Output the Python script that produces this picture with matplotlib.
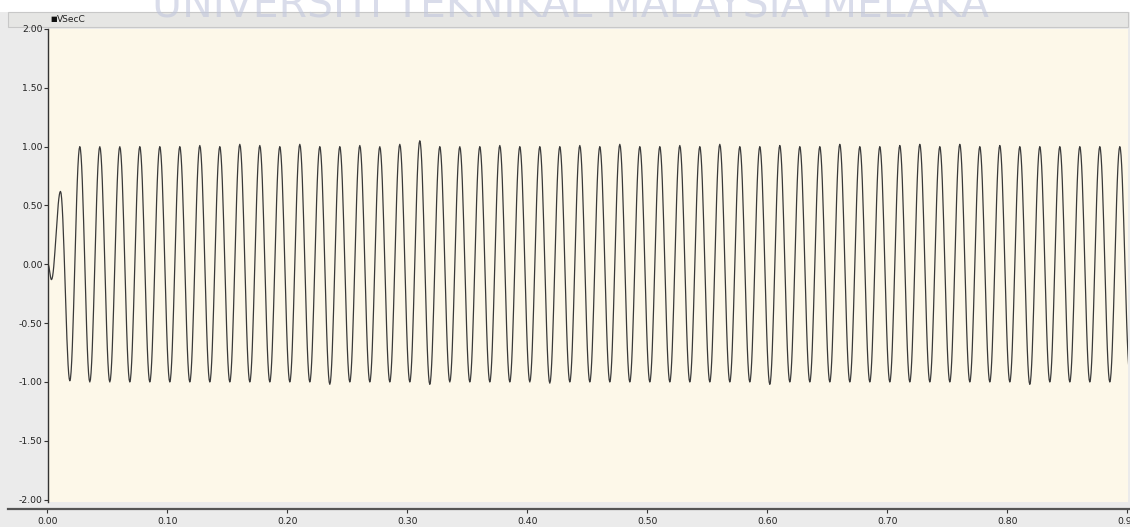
import numpy as np
import matplotlib
matplotlib.use("Agg")
import matplotlib.pyplot as plt
from matplotlib.patches import Rectangle

# signal
freq = 60.0                       # Hz, one cycle every ~20 px
start_t = [0.0, 0.0029, 0.0104, 0.0182]
start_v = [0.0, -0.13, 0.62, -0.99]
first_peak_t = 0.0265
peak_vals = [1.00, 1.00, 1.00, 1.00, 1.00, 1.00, 1.01, 1.00, 1.02, 1.01,
             1.00, 1.02, 1.00, 1.00, 1.01, 1.00, 1.02, 1.05, 1.00, 1.00,
             1.00, 1.01, 1.00, 1.00, 1.00, 1.01, 1.00, 1.02, 1.00, 1.00,
             1.01, 1.00, 1.02, 1.00, 1.00, 1.01, 1.00, 1.00, 1.02, 1.00,
             1.00, 1.01, 1.02, 1.00, 1.02, 1.00, 1.01, 1.00, 1.00, 1.00,
             1.00, 1.00, 1.00]
trough_vals = [-1.00, -1.00, -1.00, -1.00, -1.00, -1.00, -1.00, -1.00, -1.00, -1.00,
               -1.00, -1.00, -1.02, -1.00, -1.00, -1.00, -1.00, -1.02, -1.00, -1.00,
               -1.00, -1.00, -1.00, -1.01, -1.00, -1.00, -1.00, -1.00, -1.00, -1.00,
               -1.00, -1.00, -1.00, -1.00, -1.02, -1.00, -1.00, -1.00, -1.00, -1.00,
               -1.00, -1.00, -1.00, -1.00, -1.00, -1.00, -1.00, -1.02, -1.00, -1.00,
               -1.00, -1.00, -0.92]

y_ticks = [2.0, 1.5, 1.0, 0.5, 0.0, -0.5, -1.0, -1.5, -2.0]
x_ticks = [0.0, 0.1, 0.2, 0.3, 0.4, 0.5, 0.6, 0.7, 0.8, 0.9]

# extrema list -> smooth half-cosine segments between them
ext_t = list(start_t)
ext_v = list(start_v)
for k in range(len(peak_vals)):
    ext_t.append(first_peak_t + k / freq)
    ext_v.append(peak_vals[k])
    if k < len(trough_vals):
        ext_t.append(first_peak_t + (k + 0.5) / freq)
        ext_v.append(trough_vals[k])

t_all, v_all = [], []
for i in range(len(ext_t) - 1):
    s = np.linspace(0, 1, 16, endpoint=False)
    t_all.extend(ext_t[i] + (ext_t[i + 1] - ext_t[i]) * s)
    v_all.extend(ext_v[i] + (ext_v[i + 1] - ext_v[i]) * (1 - np.cos(np.pi * s)) / 2)
t_all.append(ext_t[-1])
v_all.append(ext_v[-1])

W, H = 1130, 527
fig = plt.figure(figsize=(W / 100, H / 100), dpi=100)
fig.patch.set_facecolor("#ebebeb")

# white strip at the very top, header bar below it
fig.patches.append(Rectangle((0, 1 - 12 / H), 1, 12 / H, transform=fig.transFigure,
                             facecolor="white", edgecolor="none", zorder=0))
fig.patches.append(Rectangle((8 / W, 1 - 27 / H), (1128 - 8) / W, 15 / H, transform=fig.transFigure,
                             facecolor="#e6e6e4", edgecolor="#c8c8c8", linewidth=0.8, zorder=0))

ax = fig.add_axes([48 / W, (H - 502) / H, (1128 - 48) / W, (502 - 29) / H])
ax.set_zorder(3)
ax.set_facecolor("#fdf8e9")
ax.plot(t_all, v_all, color="#3a3a3a", linewidth=0.9)
ax.set_xlim(0, 0.9)
ax.set_ylim(-2.02, 2.0)
ax.set_yticks(y_ticks)
ax.set_yticklabels(["%.2f" % v for v in y_ticks], fontsize=6.7, color="#222222")
ax.set_xticks([])
ax.tick_params(axis="y", length=3, width=0.8, pad=1, color="#333333")
for side in ["top", "right", "bottom"]:
    ax.spines[side].set_visible(False)
ax.spines["left"].set_color("#333333")
ax.spines["left"].set_linewidth(1.0)

# separate x axis bar
x_left = 0 - (47.5 - 8) / 1200
x_right = 0.9 + (1130 - 1127.5) / 1200
axx = fig.add_axes([8 / W, (H - 509) / H, 1 - 8 / W, 0.001])
axx.set_facecolor("none")
axx.set_xlim(x_left, x_right)
axx.set_yticks([])
axx.set_xticks(x_ticks)
axx.set_xticklabels(["%.2f" % v for v in x_ticks], fontsize=6.7, color="#222222")
axx.tick_params(axis="x", length=3, width=0.8, pad=3, color="#333333")
for side in ["top", "right", "left"]:
    axx.spines[side].set_visible(False)
axx.spines["bottom"].set_color("#555555")
axx.spines["bottom"].set_linewidth(1.6)

# legend entry in the header
fig.text(50 / W, 1 - 19.5 / H, "\u25a0", fontsize=5, color="#111111", va="center", ha="left")
fig.text(57 / W, 1 - 19 / H, "VSecC", fontsize=6.5, color="#222222", va="center", ha="left")

# faint watermark cut off at the top
fig.text(570 / W, 1 - 18 / H, "UNIVERSITI TEKNIKAL MALAYSIA MELAKA", fontsize=29.5,
         color="#c0c6dc", alpha=0.6, ha="center", va="baseline", zorder=1)

fig.savefig("out.png", dpi=100, facecolor=fig.get_facecolor())
